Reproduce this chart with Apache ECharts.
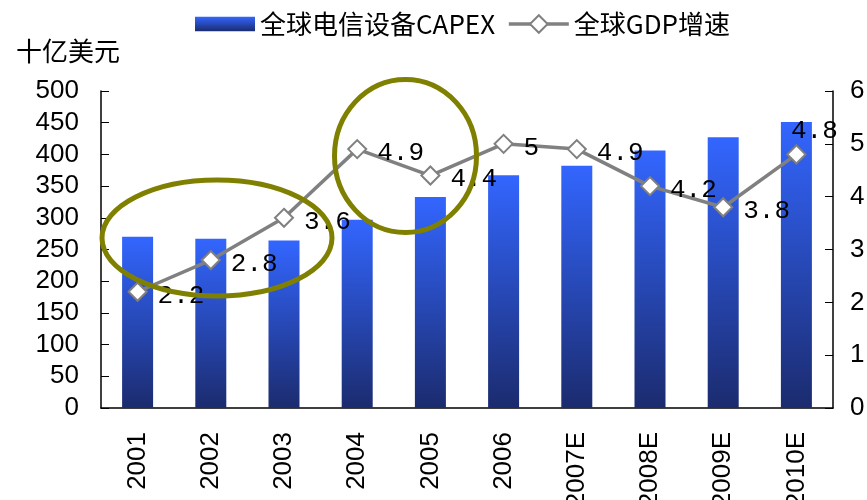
<!DOCTYPE html>
<html>
<head>
<meta charset="utf-8">
<script src="https://cdn.jsdelivr.net/npm/echarts@6/dist/echarts.min.js"></script>
<style>
  html, body { margin: 0; padding: 0; background: #fff; }
  #main { width: 867px; height: 500px; }
</style>
</head>
<body>
<div id="main"></div>
<script>
// Years on the category axis
var years = ['2001', '2002', '2003', '2004', '2005', '2006', '2007E', '2008E', '2009E', '2010E'];
// Global telecom equipment CAPEX, billion USD
var capex = [270, 267, 264, 297, 333, 367, 382, 406, 427, 451];
// Global GDP growth, %
var gdpGrowth = [2.2, 2.8, 3.6, 4.9, 4.4, 5, 4.9, 4.2, 3.8, 4.8];
// Tick settings for both value axes
var leftTicks = { min: 0, max: 500, interval: 50 };
var rightTicks = { min: 0, max: 6, interval: 1 };

var seriesNames = ['全球电信设备CAPEX', '全球GDP增速'];
var unitLabel = '十亿美元';

var latinFont = '"Liberation Sans", Arial, sans-serif';
var cjkFont = '"Noto Sans CJK SC", "Liberation Sans", sans-serif';
var monoFont = '"Liberation Mono", "DejaVu Sans Mono", monospace';

var chart = echarts.init(document.getElementById('main'), null, { renderer: 'canvas' });

var barGradient = new echarts.graphic.LinearGradient(0, 0, 0, 1, [
  { offset: 0, color: '#3366ff' },
  { offset: 1, color: '#1b2b6e' }
]);

var gdpData = gdpGrowth.map(function (v, i) {
  var item = { value: v };
  if (i === gdpGrowth.length - 1) {
    // the last value label sits above its marker
    item.label = { position: 'top', offset: [18, 10] };
  }
  return item;
});

chart.setOption({
  animation: false,
  title: {
    text: unitLabel,
    left: 11,
    top: 33,
    textStyle: { fontFamily: cjkFont, fontSize: 26, fontWeight: 'normal', color: '#000' }
  },
  legend: {
    left: 190,
    top: 6,
    itemWidth: 60,
    itemHeight: 22,
    itemGap: 12,
    textStyle: { fontFamily: cjkFont, fontSize: 26, color: '#000' },
    data: [
      { name: seriesNames[0], icon: 'path://M0,0H58V14H0Z' },
      { name: seriesNames[1], lineStyle: { width: 3.5, color: '#808080' } }
    ]
  },
  grid: { left: 101, right: 34, top: 91, bottom: 92, containLabel: false, outerBoundsMode: 'none' },
  xAxis: {
    type: 'category',
    data: years,
    boundaryGap: true,
    axisLine: { lineStyle: { color: '#000', width: 1.5 } },
    axisTick: { inside: true, length: 8, alignWithLabel: false, lineStyle: { color: '#000' } },
    axisLabel: {
      rotate: 90,
      margin: 24,
      fontFamily: latinFont,
      fontSize: 26,
      color: '#000',
      interval: 0
    },
    splitLine: { show: false }
  },
  yAxis: [
    {
      type: 'value',
      min: leftTicks.min,
      max: leftTicks.max,
      interval: leftTicks.interval,
      axisLine: { show: true, lineStyle: { color: '#000', width: 1.5 } },
      axisTick: { show: true, inside: true, length: 8, lineStyle: { color: '#000' } },
      axisLabel: { margin: 22, fontFamily: latinFont, fontSize: 26, color: '#000' },
      splitLine: { show: false }
    },
    {
      type: 'value',
      position: 'right',
      min: rightTicks.min,
      max: rightTicks.max,
      interval: rightTicks.interval,
      axisLine: { show: true, lineStyle: { color: '#000', width: 1.5 } },
      axisTick: { show: true, inside: true, length: 8, lineStyle: { color: '#000' } },
      axisLabel: { margin: 17, fontFamily: latinFont, fontSize: 26, color: '#000' },
      splitLine: { show: false }
    }
  ],
  series: [
    {
      name: seriesNames[0],
      type: 'bar',
      yAxisIndex: 0,
      data: capex,
      barWidth: 31,
      itemStyle: { color: barGradient }
    },
    {
      name: seriesNames[1],
      type: 'line',
      yAxisIndex: 1,
      data: gdpData,
      symbol: 'diamond',
      symbolSize: 18,
      z: 3,
      lineStyle: { color: '#808080', width: 3.5 },
      itemStyle: { color: '#fff', borderColor: '#808080', borderWidth: 2 },
      label: {
        show: true,
        position: 'right',
        distance: 10,
        offset: [0, 4],
        fontFamily: monoFont,
        fontSize: 26,
        color: '#000',
        formatter: function (p) { return String(p.value); }
      }
    }
  ],
  graphic: [
    {
      type: 'ellipse',
      z: 100,
      shape: { cx: 217, cy: 238, rx: 115, ry: 58 },
      style: { fill: 'none', stroke: '#808000', lineWidth: 5 }
    },
    {
      type: 'ellipse',
      z: 100,
      shape: { cx: 405.5, cy: 156, rx: 71, ry: 76.5 },
      style: { fill: 'none', stroke: '#808000', lineWidth: 5 }
    }
  ]
});
</script>
</body>
</html>
